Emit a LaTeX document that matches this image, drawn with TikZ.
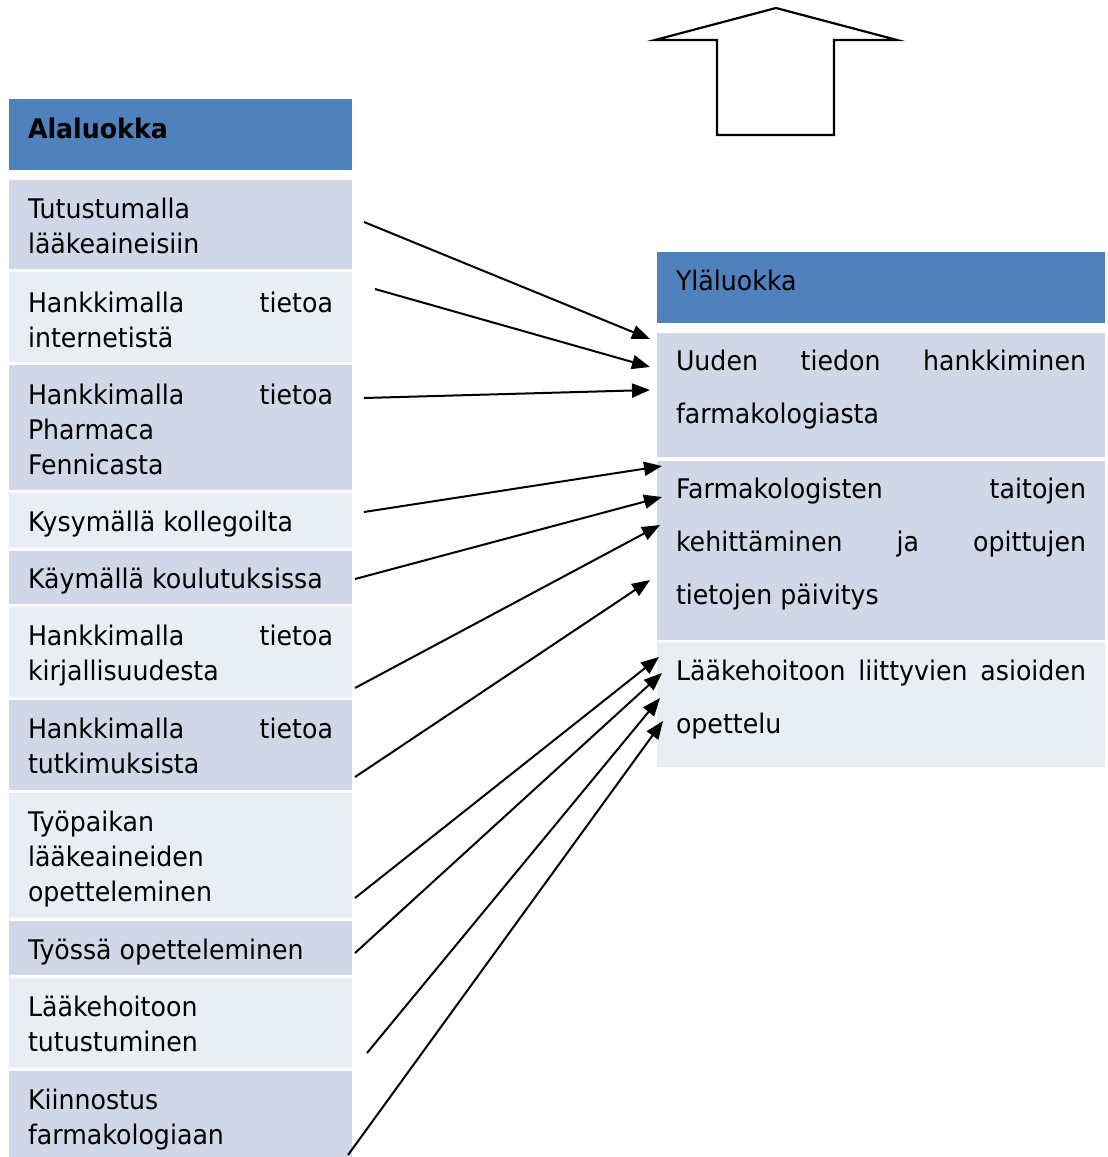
\documentclass[tikz,border=0pt]{standalone}
\usepackage{fontspec}
\setmainfont{DejaVu Sans}[FakeStretch=0.935]
\usetikzlibrary{arrows.meta}
\definecolor{hdr}{HTML}{4F81BD}
\definecolor{drow}{HTML}{D0D8E8}
\definecolor{lrow}{HTML}{E9EDF4}
\newcommand\LLines[2]{\vtop{\baselineskip=#1\relax\lineskiplimit=-100pt\lineskip=0pt #2}}
\newcommand\JL[2]{\hbox to #1{#2}}
\begin{document}
\begin{tikzpicture}[x=1pt,y=-1pt,
 cell/.style={anchor=north west, inner sep=0pt, outer sep=0pt, draw=none},
 lcell/.style={cell, minimum width=343pt},
 rcell/.style={cell, minimum width=448pt},
 txt/.style={anchor=base west, inner sep=0pt, outer sep=0pt, font=\fontsize{27}{35}\selectfont},
 conn/.style={line width=2pt, -{Triangle[length=18pt,width=14pt]}},
 bigarrow/.style={line width=2.2pt, draw=black, line join=miter},
]
\useasboundingbox (0,0) rectangle (1108,1157);

% left column cells
\node[lcell, fill=hdr,  minimum height=71pt]  (L0)  at (9,99)   {};
\node[lcell, fill=drow, minimum height=89pt]  (L1)  at (9,180)  {};
\node[lcell, fill=lrow, minimum height=90pt]  (L2)  at (9,272)  {};
\node[lcell, fill=drow, minimum height=125pt] (L3)  at (9,365)  {};
\node[lcell, fill=lrow, minimum height=55pt]  (L4)  at (9,493)  {};
\node[lcell, fill=drow, minimum height=53pt]  (L5)  at (9,551)  {};
\node[lcell, fill=lrow, minimum height=90pt]  (L6)  at (9,607)  {};
\node[lcell, fill=drow, minimum height=90pt]  (L7)  at (9,700)  {};
\node[lcell, fill=lrow, minimum height=125pt] (L8)  at (9,793)  {};
\node[lcell, fill=drow, minimum height=54pt]  (L9)  at (9,921)  {};
\node[lcell, fill=lrow, minimum height=90pt]  (L10) at (9,978)  {};
\node[lcell, fill=drow, minimum height=86pt]  (L11) at (9,1071) {};

% right column cells
\node[rcell, fill=hdr,  minimum height=71pt]  (R0) at (657,252) {};
\node[rcell, fill=drow, minimum height=124pt] (R1) at (657,333) {};
\node[rcell, fill=drow, minimum height=179pt] (R2) at (657,461) {};
\node[rcell, fill=lrow, minimum height=125pt] (R3) at (657,642) {};

% left texts
\node[txt, font=\fontsize{27}{35}\selectfont\bfseries] (T0) at (28,138) {Alaluokka};
\node[txt] (T1) at (28,218) {\LLines{35pt}{\hbox{Tutustumalla}\hbox{lääkeaineisiin}}};
\node[txt] (T2) at (28,312) {\LLines{35pt}{\JL{305pt}{Hankkimalla\hfill tietoa}\hbox{internetistä}}};
\node[txt] (T3) at (28,404) {\LLines{35pt}{\JL{305pt}{Hankkimalla\hfill tietoa}\hbox{Pharmaca}\hbox{Fennicasta}}};
\node[txt] (T4) at (28,531) {Kysymällä kollegoilta};
\node[txt] (T5) at (28,588) {Käymällä koulutuksissa};
\node[txt] (T6) at (28,645) {\LLines{35pt}{\JL{305pt}{Hankkimalla\hfill tietoa}\hbox{kirjallisuudesta}}};
\node[txt] (T7) at (28,738) {\LLines{35pt}{\JL{305pt}{Hankkimalla\hfill tietoa}\hbox{tutkimuksista}}};
\node[txt] (T8) at (28,831) {\LLines{35pt}{\hbox{Työpaikan}\hbox{lääkeaineiden}\hbox{opetteleminen}}};
\node[txt] (T9) at (28,959) {Työssä opetteleminen};
\node[txt] (T10) at (28,1016) {\LLines{35pt}{\hbox{Lääkehoitoon}\hbox{tutustuminen}}};
\node[txt] (T11) at (28,1109) {\LLines{35pt}{\hbox{Kiinnostus}\hbox{farmakologiaan}}};

% right texts
\node[txt] (U0) at (676,290) {Yläluokka};
\node[txt] (U1) at (676,370) {\LLines{53pt}{\JL{410pt}{Uuden\hfill tiedon\hfill hankkiminen}\hbox{farmakologiasta}}};
\node[txt] (U2) at (676,498) {\LLines{53pt}{\JL{410pt}{Farmakologisten\hfill taitojen}\JL{410pt}{kehittäminen\hfill ja\hfill opittujen}\hbox{tietojen päivitys}}};
\node[txt] (U3) at (676,680) {\LLines{53pt}{\JL{410pt}{Lääkehoitoon\hfill liittyvien\hfill asioiden}\hbox{opettelu}}};

% big outline arrow
\draw[bigarrow] (655,40) -- (717,40) -- (717,135) -- (834,135) -- (834,40) -- (897,40) -- (776,8) -- cycle;

% connector end points
\coordinate (s1) at (364,222);  \coordinate (e1) at (650,339);
\coordinate (s2) at (375,289);  \coordinate (e2) at (650,367);
\coordinate (s3) at (364,398);  \coordinate (e3) at (650,390);
\coordinate (s4) at (364,512);  \coordinate (e4) at (662,466);
\coordinate (s5) at (355,579);  \coordinate (e5) at (662,497);
\coordinate (s6) at (355,688);  \coordinate (e6) at (660,525);
\coordinate (s7) at (355,777);  \coordinate (e7) at (650,580);
\coordinate (s8) at (355,898);  \coordinate (e8) at (659,657);
\coordinate (s9) at (355,953);  \coordinate (e9) at (662,673);
\coordinate (s10) at (367,1053); \coordinate (e10) at (660,698);
\coordinate (s11) at (348,1155); \coordinate (e11) at (663,721);

\foreach \i in {1,...,11} {\draw[conn] (s\i) -- (e\i);}
\end{tikzpicture}
\end{document}
